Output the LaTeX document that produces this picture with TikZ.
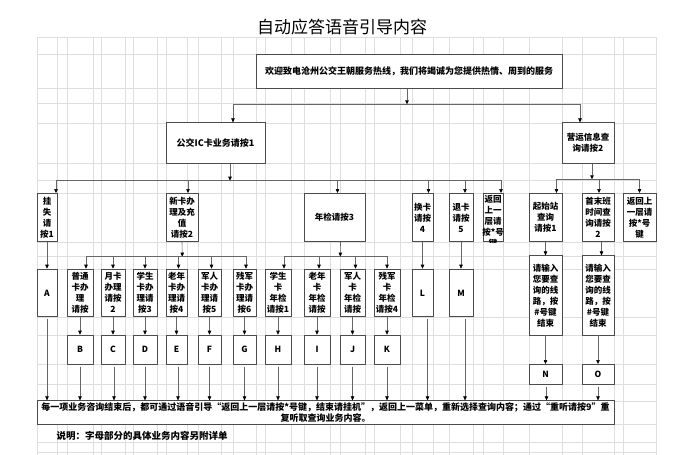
\documentclass[tikz,border=0pt]{standalone}
\usepackage{fontspec}
\setmainfont{Noto Sans CJK SC}
\usetikzlibrary{arrows.meta}
\newcommand\boxfont{\fontsize{8.5}{11}\selectfont\bfseries}

\begin{document}
\begin{tikzpicture}[x=1pt, y=-1pt,
  box/.style={draw=black!70, line width=0.6pt, fill=white, inner sep=0pt, align=center, font=\boxfont},
  menu/.style={box, minimum height=48.4pt},
  sub/.style={box, minimum height=47.7pt},
  leaf/.style={box, minimum height=29.3pt},
  arr/.style={draw=black!60, line width=0.6pt, -{Triangle[length=4pt,width=3.5pt,color=black]}},
  gridline/.style={draw=black!13, line width=0.5pt}]
  \fill[white] (0,0) rectangle (675,455);
  \useasboundingbox (0,0) rectangle (675,455);

  % sheet grid
  \foreach \x in {37,57,67,93,101,125,133,157,166,187,198,221,233,256,265,291,304,330,340,365,374,400,412,433,449,473,483,503,529,562,582,614,623,656}
    \draw[gridline] (\x,37) -- (\x,455);
  \foreach \y in {37,54,88,103,123,163,180,193,242,256,269,317,335,364,384,401,424,442,452}
    \draw[gridline] (37,\y) -- (656,\y);

  \node[font=\fontsize{17}{20}\selectfont] (title) at (342,27) {自动应答语音引导内容};

  \node[box, minimum width=306pt, minimum height=34.3pt, font=\fontsize{9}{11}\selectfont\bfseries] (wel) at (409,71.2)
    {欢迎致电沧州公交王朝服务热线，我们将竭诚为您提供热情、周到的服务};
  \node[box, minimum width=99pt, minimum height=40.6pt, font=\fontsize{9}{11}\selectfont\bfseries] (ic) at (215.5,143) {公交IC卡业务请按1};
  \node[box, minimum width=52pt, minimum height=40.6pt] (yy) at (588,143) {营运信息查\\询请按2};

  % second level
  \node[menu, minimum width=20pt] (gs) at (47,217.5) {挂\\失\\请\\按1};
  \node[menu, minimum width=32pt] (xk) at (182,217.5) {新卡办\\理及充\\值\\请按2};
  \node[menu, minimum width=61pt] (nj) at (334.5,217.5) {年检请按3};
  \node[menu, minimum width=21pt] (hk) at (422.5,217.5) {换卡\\请按\\4};
  \node[menu, minimum width=24pt] (tk) at (461,217.5) {退卡\\请按\\5};
  \node[menu, minimum width=20pt] (fh1) at (493,217.5) {};
  \begin{scope}
    \clip (fh1.north west) rectangle (fh1.south east);
    \node[anchor=north, inner sep=0pt, align=center, font=\boxfont] (fh1t) at ([yshift=-2pt]fh1.north)
      {返回\\上一\\层请\\按*号\\键};
  \end{scope}
  \node[menu, minimum width=33pt] (qs) at (545.5,217.5) {起始站\\查询\\请按1};
  \node[menu, minimum width=32pt] (sm) at (598,217.5) {首末班\\时间查\\询请按\\2};
  \node[menu, minimum width=33pt] (fh2) at (639.5,217.5) {返回上\\一层请\\按*号\\键};

  % third level
  \node[sub, minimum width=20pt] (A) at (47,292.85) {A};
  \node[sub, minimum width=26pt] (pt) at (80,292.85) {普通\\卡办\\理\\请按};
  \node[sub, minimum width=24pt] (yk) at (113,292.85) {月卡\\办理\\请按\\2};
  \node[sub, minimum width=24pt] (xs) at (145,292.85) {学生\\卡办\\理请\\按3};
  \node[sub, minimum width=21pt] (ln) at (176.5,292.85) {老年\\卡办\\理请\\按4};
  \node[sub, minimum width=23pt] (jr) at (209.5,292.85) {军人\\卡办\\理请\\按5};
  \node[sub, minimum width=23pt] (cj) at (244.5,292.85) {残军\\卡办\\理请\\按6};
  \node[sub, minimum width=26pt] (xsn) at (278,292.85) {学生\\卡\\年检\\请按1};
  \node[sub, minimum width=26pt] (lnn) at (317,292.85) {老年\\卡\\年检\\请按};
  \node[sub, minimum width=25pt] (jrn) at (352.5,292.85) {军人\\卡\\年检\\请按};
  \node[sub, minimum width=26pt] (cjn) at (387,292.85) {残军\\卡\\年检\\请按4};
  \node[sub, minimum width=21pt] (L) at (422.5,292.85) {L};
  \node[sub, minimum width=24pt] (M) at (461,292.85) {M};
  \node[box, minimum width=33pt, minimum height=79.3pt] (qr1) at (545.5,295.35) {请输入\\您要查\\询的线\\路，按\\\#号键\\结束};
  \node[box, minimum width=32pt, minimum height=79.3pt] (qr2) at (598,295.35) {请输入\\您要查\\询的线\\路，按\\\#号键\\结束};

  % letter boxes
  \foreach \n/\x/\w in {B/80/26, C/113/24, D/145/24, E/176.5/21, F/209.5/23, G/244.5/23, H/278/26, I/317/26, J/352.5/25, K/387/26}
    \node[leaf, minimum width=\w pt] (l\n) at (\x,349.65) {\n};
  \node[box, minimum width=33pt, minimum height=20pt] (N) at (545.5,374.3) {N};
  \node[box, minimum width=32pt, minimum height=20pt] (O) at (598,374.3) {O};

  \node[box, minimum width=577pt, minimum height=23.6pt, font=\fontsize{9}{10.5}\selectfont\bfseries] (bot) at (325.5,412.5)
    {每一项业务咨询结束后，都可通过语音引导“返回上一层请按*号键，结束请挂机”，返回上一菜单，重新选择查询内容；通过“重听请按9”重\\复听取查询业务内容。};
  \node[anchor=west, font=\fontsize{9.5}{11}\selectfont\bfseries] (note) at (53,436) {说明：字母部分的具体业务内容另附详单};

  % connectors
  \coordinate (j0) at (407,104.3);
  \draw[arr] ([xshift=-2pt]wel.south) -- (j0);
  \draw[arr] (j0) -| ([xshift=17.5pt]ic.north);
  \draw[arr] (j0) -| ([xshift=-8pt]yy.north);

  \coordinate (j1) at (230,180.7);
  \draw[arr] ([xshift=14.5pt]ic.south) -- (j1);
  \foreach \n/\s in {gs/9, xk/6, nj/3, hk/6, tk/4, fh1/8}
    \draw[arr] (j1) -| ([xshift=\s pt]\n.north);
  \draw[arr] (gs.south) -- (A.north);

  \coordinate (j2) at (182.3,256.7);
  \draw[arr] (xk.south) -- (j2);
  \foreach \n/\s in {pt/6, yk/0, xs/0, ln/2, jr/2, cj/1.5}
    \draw[arr] (j2) -| ([xshift=\s pt]\n.north);

  \coordinate (j3) at (340.3,256.7);
  \draw[arr] ([xshift=6pt]nj.south) -- (j3);
  \foreach \n/\s in {xsn/6, lnn/2, jrn/3, cjn/0}
    \draw[arr] (j3) -| ([xshift=\s pt]\n.north);

  \draw[arr] (hk.south) -- (L.north);
  \draw[arr] (tk.south) -- (M.north);

  \coordinate (j4) at (592,179.3);
  \draw[arr] ([xshift=4pt]yy.south) -- (j4);
  \foreach \n/\s in {qs/11, sm/1, fh2/0}
    \draw[arr] (j4) -| ([xshift=\s pt]\n.north);
  \draw[arr] (qs.south) -- (qr1.north);
  \draw[arr] (qr1.south) -- (N.north);
  \draw[arr] ([xshift=3.5pt]sm.south) -- ([xshift=3.5pt]qr2.north);
  \draw[arr] (qr2.south) -- (O.north);

  \foreach \a/\b in {pt/lB, yk/lC, xs/lD, ln/lE, jr/lF, cj/lG, xsn/lH, lnn/lI, jrn/lJ, cjn/lK}
    \draw[arr] (\a.south) -- (\b.north);

  % down to the closing box
  \foreach \n/\s in {A/0, lB/0, lC/1, lD/0, lE/1.5, lF/0, lG/0, lH/0, lI/0, lJ/0, lK/0, L/5, M/4, N/1, O/0} {
    \coordinate (s\n) at ([xshift=\s pt, yshift=-2pt]\n.south);
    \draw[arr] (s\n) -- (s\n |- bot.north);
  }
\end{tikzpicture}
\end{document}
